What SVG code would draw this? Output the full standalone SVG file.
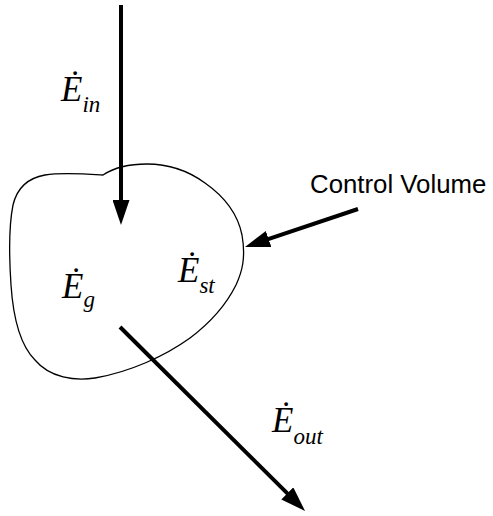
<svg xmlns="http://www.w3.org/2000/svg" width="493" height="516" viewBox="0 0 493 516">
<style>
.arrow{stroke:#000;stroke-width:4;fill:none}
.cv{stroke:#000;stroke-width:1.3;fill:none}
.sym{font-family:"Liberation Serif","Times New Roman",serif;font-style:italic;fill:#000}
.main{font-size:35px}
.sub{font-size:23px}
.lbl{font-family:"Liberation Sans",Arial,sans-serif;font-size:25.8px;fill:#000}
</style>
<defs>
<marker id="ah" viewBox="0 0 25 17" refX="10" refY="8.5" markerWidth="25" markerHeight="17" markerUnits="userSpaceOnUse" orient="auto">
<path d="M0,0 L25,8.5 L0,17 Z" fill="#000"/>
</marker>
</defs>
<g id="control-volume">
<path class="cv" d="M103,175 C112,169 128,164 147,164 C170,164 190,172 205,183 C225,197 238,215 242,235 C246,258 242,272 236,285 C226,305 210,323 190,338 C165,356 130,372 95,378 C75,381 50,378 35,360 C20,345 13,315 11,285 C9,255 9,225 13,205 C17,188 28,178 45,175 C62,172 88,174 103,175 Z"/>
</g>
<g id="connectors">
<line class="arrow" x1="121" y1="5" x2="121" y2="210" marker-end="url(#ah)"/>
<line class="arrow" x1="358" y1="209" x2="259.2" y2="242.2" marker-end="url(#ah)"/>
<line class="arrow" x1="120" y1="327" x2="294.4" y2="500.4" marker-end="url(#ah)"/>
</g>
<g id="label-ein">
<text class="sym" x="61" y="101"><tspan class="main">Ė</tspan><tspan class="sub" dy="11">in</tspan></text>
</g>
<g id="label-eg">
<text class="sym" x="62" y="298"><tspan class="main">Ė</tspan><tspan class="sub" dy="9">g</tspan></text>
</g>
<g id="label-est">
<text class="sym" x="178" y="282"><tspan class="main">Ė</tspan><tspan class="sub" dy="11">st</tspan></text>
</g>
<g id="label-eout">
<text class="sym" x="272" y="432"><tspan class="main">Ė</tspan><tspan class="sub" dy="12">out</tspan></text>
</g>
<g id="label-cv">
<text class="lbl" x="310" y="193">Control Volume</text>
</g>
</svg>
